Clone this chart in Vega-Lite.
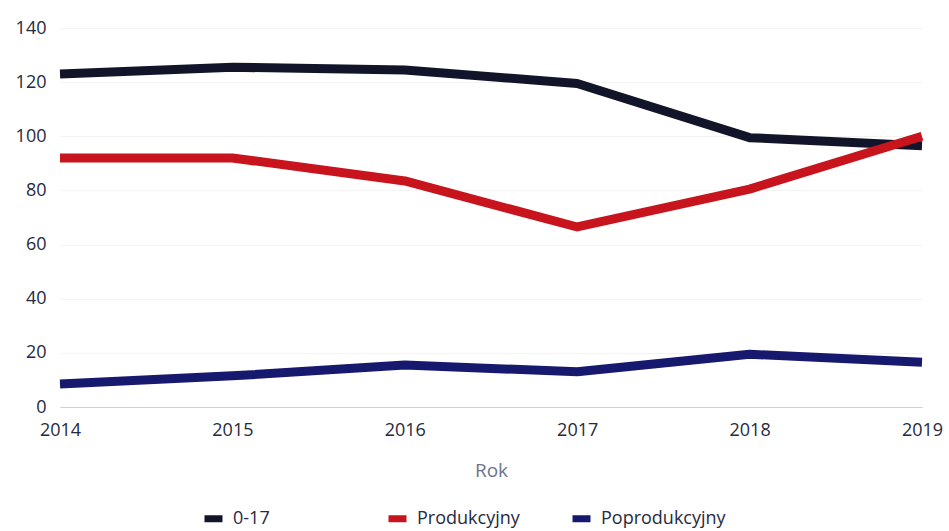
{
  "$schema": "https://vega.github.io/schema/vega-lite/v6.json",
  "width": 862,
  "height": 379,
  "autosize": {"type": "none"},
  "padding": {"left": 60, "top": 28, "right": 27, "bottom": 124},
  "background": "white",
  "config": {
    "font": "Open Sans",
    "view": {"stroke": null}
  },
  "data": {
    "values": [
      {"rok": 2014, "grupa": "0-17", "wartosc": 123},
      {"rok": 2015, "grupa": "0-17", "wartosc": 125.5},
      {"rok": 2016, "grupa": "0-17", "wartosc": 124.5},
      {"rok": 2017, "grupa": "0-17", "wartosc": 119.5},
      {"rok": 2018, "grupa": "0-17", "wartosc": 99.5},
      {"rok": 2019, "grupa": "0-17", "wartosc": 96.5},
      {"rok": 2014, "grupa": "Produkcyjny", "wartosc": 92},
      {"rok": 2015, "grupa": "Produkcyjny", "wartosc": 92},
      {"rok": 2016, "grupa": "Produkcyjny", "wartosc": 83.5},
      {"rok": 2017, "grupa": "Produkcyjny", "wartosc": 66.5},
      {"rok": 2018, "grupa": "Produkcyjny", "wartosc": 80.5},
      {"rok": 2019, "grupa": "Produkcyjny", "wartosc": 100},
      {"rok": 2014, "grupa": "Poprodukcyjny", "wartosc": 8.5},
      {"rok": 2015, "grupa": "Poprodukcyjny", "wartosc": 11.5},
      {"rok": 2016, "grupa": "Poprodukcyjny", "wartosc": 15.5},
      {"rok": 2017, "grupa": "Poprodukcyjny", "wartosc": 13},
      {"rok": 2018, "grupa": "Poprodukcyjny", "wartosc": 19.5},
      {"rok": 2019, "grupa": "Poprodukcyjny", "wartosc": 16.5}
    ]
  },
  "mark": {"type": "line", "strokeWidth": 9, "interpolate": "linear", "strokeJoin": "round"},
  "encoding": {
    "x": {
      "field": "rok",
      "type": "quantitative",
      "scale": {"domain": [2014, 2019], "nice": false, "zero": false},
      "axis": {
        "title": "Rok",
        "values": [2014, 2015, 2016, 2017, 2018, 2019],
        "format": "d",
        "grid": false,
        "ticks": false,
        "domain": true,
        "domainColor": "#d0d0d0",
        "domainWidth": 1,
        "labelFontSize": 18,
        "labelColor": "#262a40",
        "labelPadding": 14,
        "labelFlush": false,
        "titleFontSize": 19,
        "titleFontWeight": "normal",
        "titleColor": "#6f7489",
        "titlePadding": 22
      }
    },
    "y": {
      "field": "wartosc",
      "type": "quantitative",
      "scale": {"domain": [0, 140], "nice": false},
      "axis": {
        "title": null,
        "values": [0, 20, 40, 60, 80, 100, 120, 140],
        "grid": true,
        "gridColor": "#f3f3f3",
        "ticks": false,
        "domain": false,
        "labelFontSize": 18,
        "labelColor": "#262a40",
        "labelPadding": 14
      }
    },
    "color": {
      "field": "grupa",
      "type": "nominal",
      "sort": ["0-17", "Produkcyjny", "Poprodukcyjny"],
      "scale": {
        "domain": ["0-17", "Produkcyjny", "Poprodukcyjny"],
        "range": ["#12152a", "#c8141c", "#17196e"]
      },
      "legend": {
        "title": null,
        "orient": "none",
        "legendX": 141,
        "legendY": 478,
        "direction": "horizontal",
        "columns": 3,
        "gridAlign": "all",
        "columnPadding": 16,
        "symbolType": "stroke",
        "symbolSize": 324,
        "symbolStrokeWidth": 7,
        "labelFontSize": 18,
        "labelColor": "#262a40",
        "labelOffset": 7
      }
    }
  }
}
